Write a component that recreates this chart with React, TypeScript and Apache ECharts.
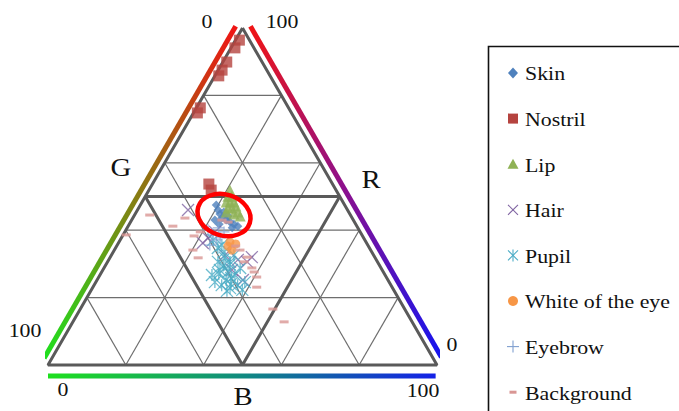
import React, { useEffect, useRef } from "react";
import * as echarts from "echarts";

// Ternary data, each point is [R, G, B] in percent
const skin: number[][] = [
  [47.5, 33.0, 19.5], [46.0, 33.3, 20.7], [44.8, 33.4, 21.8], [45.4, 32.1, 22.5],
  [43.6, 33.5, 22.9], [43.0, 32.7, 24.3], [42.4, 32.0, 25.6], [41.8, 31.3, 26.9],
  [41.2, 30.6, 28.2], [44.2, 31.6, 24.2], [43.0, 35.6, 21.4], [41.8, 35.1, 23.1],
  [40.7, 32.3, 27.0],
];
const nostril: number[][] = [
  [96.4, 2.6, 1.0], [94.1, 4.9, 1.0], [89.9, 9.1, 1.0], [87.5, 11.5, 1.0],
  [85.8, 13.2, 1.0], [76.3, 22.7, 1.0], [74.8, 24.2, 1.0], [53.7, 31.8, 14.5],
  [51.9, 32.1, 16.0],
];
const lip: number[][] = [
  [51.9, 27.3, 20.8], [50.1, 28.7, 21.2], [50.1, 27.7, 22.2], [48.4, 30.0, 21.6],
  [48.4, 29.0, 22.6], [48.4, 28.0, 23.6], [47.2, 28.1, 24.7], [46.6, 30.4, 23.0],
  [46.6, 29.4, 24.0], [45.4, 28.5, 26.1], [44.8, 29.8, 25.4], [44.2, 28.5, 27.3],
  [45.4, 31.5, 23.1],
];
const hair: number[][] = [
  [46.0, 41.0, 13.0], [36.2, 42.1, 21.7], [37.7, 40.0, 22.3], [32.0, 31.6, 36.4],
  [30.6, 33.5, 35.9], [39.5, 37.3, 23.2], [32.6, 38.2, 29.2], [31.2, 35.6, 33.2],
  [28.2, 38.6, 33.2], [25.2, 37.3, 37.5],
];
const pupil: number[][] = [
  [37.1, 39.0, 23.9], [34.7, 39.0, 26.3], [35.6, 37.5, 26.9], [31.8, 38.6, 29.6],
  [30.6, 37.9, 31.5], [28.2, 41.7, 30.1], [27.6, 39.9, 32.5], [26.7, 38.6, 34.7],
  [28.8, 36.2, 35.0], [24.6, 44.8, 30.6], [23.7, 43.5, 32.8], [22.8, 41.8, 35.4],
  [23.7, 39.4, 36.9], [24.6, 37.1, 38.3], [25.2, 41.6, 33.2], [30.6, 41.0, 28.4],
  [32.6, 35.9, 31.5], [22.3, 38.9, 38.8], [26.7, 44.5, 28.8], [29.5, 40.2, 30.3],
  [27.0, 42.6, 30.4], [25.8, 40.0, 34.2], [22.0, 43.0, 35.0], [24.0, 41.0, 35.0],
  [29.8, 38.4, 31.8], [33.5, 38.0, 28.5],
];
const whiteOfEye: number[][] = [
  [35.3, 36.1, 28.6], [34.1, 35.7, 30.2], [35.9, 33.8, 30.3], [36.5, 35.0, 28.5],
];
const eyebrow: number[][] = [
  [40.1, 38.8, 21.1], [38.6, 38.5, 22.9], [37.1, 38.2, 24.7], [37.7, 36.9, 25.4],
  [35.6, 40.6, 23.8], [39.5, 35.0, 25.5], [40.7, 35.9, 23.4],
];
const background: number[][] = [
  [44.5, 51.6, 3.9], [38.6, 60.6, 0.8], [41.2, 47.3, 11.5], [43.6, 43.0, 13.4],
  [38.3, 43.3, 18.4], [34.1, 45.7, 20.2], [43.0, 33.8, 23.2], [42.4, 32.5, 25.1],
  [34.1, 33.6, 32.3], [32.0, 32.8, 35.2], [28.8, 33.2, 38.0], [26.1, 33.3, 40.6],
  [23.1, 34.8, 42.1], [27.6, 33.2, 39.2], [30.6, 34.3, 35.1], [35.3, 34.1, 30.6],
  [16.6, 33.9, 49.5], [12.8, 32.9, 54.3], [39.5, 41.1, 19.4], [31.8, 45.5, 22.7],
];

const seriesNames = ["Skin", "Nostril", "Lip", "Hair", "Pupil", "White of the eye", "Eyebrow", "Background"];
const gridTicks = [20, 40, 60, 80];
const midTick = 50;

const FONT = "Liberation Serif";

// ternary [R,G,B] -> cartesian (x across bottom 0..100, y height 0..100)
const toXY = (p: number[]) => {
  const [r, g, b] = p;
  const s = r + g + b;
  return [((b + r / 2) * 100) / s, (r * 100) / s];
};
const toXYRaw = (p: number[]) => [p[2] + p[0] / 2, p[0]];

const lineSeries = (pts: number[][], color: any, width: number, z: number, raw = false) => ({
  type: "line",
  data: pts.map(raw ? toXYRaw : toXY),
  symbol: "none",
  showSymbol: false,
  lineStyle: { color, width, cap: "butt" },
  silent: true,
  clip: false,
  z,
  legendHoverLink: false,
});

const App: React.FC = () => {
  const ref = useRef<HTMLDivElement>(null);
  useEffect(() => {
    if (!ref.current) return;
    const chart = echarts.init(ref.current, undefined, { renderer: "svg" });
    const GL = 48, GT = 28, GW = 389, GH = 337;

    const lines: any[] = [];
    gridTicks.forEach((k) => {
      lines.push(lineSeries([[k, 100 - k, 0], [k, 0, 100 - k]], "#6e6e6e", 1.2, 1));
      lines.push(lineSeries([[0, 100 - k, k], [100 - k, 0, k]], "#6e6e6e", 1.2, 1));
      lines.push(lineSeries([[0, k, 100 - k], [100 - k, k, 0]], "#6e6e6e", 1.2, 1));
    });
    // medial triangle (50%)
    lines.push(lineSeries([[midTick, 100 - midTick, 0], [midTick, 0, 100 - midTick], [0, midTick, 100 - midTick], [midTick, 100 - midTick, 0]], "#5a5a5a", 3, 2));
    // outer triangle
    lines.push(lineSeries([[100, 0, 0], [0, 100, 0], [0, 0, 100], [100, 0, 0]], "#5a5a5a", 3, 2));

    // gradient edges (offset outside the triangle), [R,G,B] raw values
    const leftGrad = new echarts.graphic.LinearGradient(0, 1, 1, 0, [
      { offset: 0, color: "#1ee01e" }, { offset: 0.5, color: "#8a7a12" }, { offset: 1, color: "#f01414" },
    ]);
    const rightGrad = new echarts.graphic.LinearGradient(0, 0, 1, 1, [
      { offset: 0, color: "#f01414" }, { offset: 0.5, color: "#8a1090" }, { offset: 1, color: "#1414f0" },
    ]);
    const bottomGrad = new echarts.graphic.LinearGradient(GL, 0, GL + GW, 0, [
      { offset: 0, color: "#1ee01e" }, { offset: 0.5, color: "#108a80" }, { offset: 1, color: "#1420e8" },
    ], true);
    lines.push(lineSeries([[2, 100, -2], [100.5, 1.5, -2]], leftGrad, 5, 2, true));
    lines.push(lineSeries([[100.5, -2.3, 1.8], [2.3, -2.3, 100]], rightGrad, 5, 2, true));
    lines.push(lineSeries([[-3.3, 100, 1.65], [-3.3, 100, 101.3]], bottomGrad, 5, 2, true));

    const xPath = "path://M0,0L10,10M10,0L0,10";
    const starPath = "path://M0,0L10,10M10,0L0,10M5,0L5,10";
    const plusPath = "path://M5,0L5,10M0,5L10,5";

    const scatterDefs = [
      { name: seriesNames[0], data: skin, symbol: "diamond", size: 9, color: "#4F81BD", icon: "diamond" },
      { name: seriesNames[1], data: nostril, symbol: "rect", size: 11, color: "#B5433F", icon: "rect" },
      { name: seriesNames[2], data: lip, symbol: "triangle", size: 11, color: "#8FB255", icon: "triangle" },
      { name: seriesNames[3], data: hair, symbol: xPath, size: 12, color: "#8064A2", stroke: 1.3, icon: "x" },
      { name: seriesNames[4], data: pupil, symbol: starPath, size: 12, color: "#4BACC6", stroke: 1.3, icon: "star" },
      { name: seriesNames[5], data: whiteOfEye, symbol: "circle", size: 9, color: "#F79646", icon: "circle" },
      { name: seriesNames[6], data: eyebrow, symbol: plusPath, size: 11, color: "#7F9FCF", stroke: 1.2, icon: "plus" },
      { name: seriesNames[7], data: background, symbol: "rect", size: [9, 3], color: "#D99694", icon: "dash" },
    ];

    const scatters = scatterDefs.map((d, i) => ({
      type: "scatter",
      name: d.name,
      data: d.data.map(toXY),
      symbol: d.symbol,
      symbolSize: d.size,
      itemStyle: d.stroke
        ? { color: d.color, borderColor: d.color, borderWidth: d.stroke }
        : { color: d.color },
      z: 3 + i * 0.01,
    }));

    // custom legend (serif text, slightly stretched like the original)
    const LX = 513, LY0 = 73, LSTEP = 45.6;
    const iconEl = (kind: string, cx: number, cy: number, c: string): any => {
      const ln = (x1: number, y1: number, x2: number, y2: number) => ({
        type: "line", shape: { x1: cx + x1, y1: cy + y1, x2: cx + x2, y2: cy + y2 },
        style: { stroke: c, lineWidth: 1.1 },
      });
      switch (kind) {
        case "diamond":
          return { type: "polygon", shape: { points: [[cx, cy - 5.5], [cx + 5, cy], [cx, cy + 5.5], [cx - 5, cy]] }, style: { fill: c } };
        case "rect":
          return { type: "rect", shape: { x: cx - 5, y: cy - 5, width: 10, height: 10 }, style: { fill: c } };
        case "triangle":
          return { type: "polygon", shape: { points: [[cx, cy - 5.5], [cx + 5.5, cy + 4.5], [cx - 5.5, cy + 4.5]] }, style: { fill: c } };
        case "circle":
          return { type: "circle", shape: { cx, cy, r: 5 }, style: { fill: c } };
        case "x":
          return { type: "group", children: [ln(-5, -5, 5, 5), ln(5, -5, -5, 5)] };
        case "star":
          return { type: "group", children: [ln(-5, -5, 5, 5), ln(5, -5, -5, 5), ln(0, -6, 0, 6)] };
        case "plus":
          return { type: "group", children: [ln(0, -6, 0, 6), ln(-6, 0, 6, 0)] };
        default:
          return { type: "rect", shape: { x: cx - 3.5, y: cy - 1.5, width: 7, height: 3 }, style: { fill: c } };
      }
    };
    const legendEls: any[] = [];
    scatterDefs.forEach((d, i) => {
      const cy = LY0 + i * LSTEP;
      legendEls.push({ ...iconEl(d.icon, LX, cy, d.color), z: 12 });
      legendEls.push({
        type: "text", x: LX + 12, y: cy + 1, scaleX: 1.15, z: 12,
        style: {
          text: d.name, fill: "#111", fontSize: 19, fontFamily: FONT,
          textAlign: "left", textVerticalAlign: "middle", align: "left", verticalAlign: "middle",
        },
      });
    });

    const txt = (text: string, x: number, y: number, size: number) => ({
      type: "text",
      x, y, scaleX: 1.15,
      z: 10,
      style: {
        text, fill: "#111", fontSize: size, fontFamily: FONT,
        textAlign: "center", textVerticalAlign: "middle", align: "center", verticalAlign: "middle",
      },
    });

    chart.setOption({
      animation: false,
      grid: { left: GL, top: GT, width: GW, height: GH },
      xAxis: { type: "value", min: 0, max: 100, show: false },
      yAxis: { type: "value", min: 0, max: 100, show: false },
      graphic: [
        {
          type: "rect", shape: { x: 488.5, y: 46.5, width: 300, height: 420 },
          style: { fill: "none", stroke: "#111", lineWidth: 1.6 }, z: 0,
        },
        {
          type: "ellipse", x: 224, y: 215, rotation: -0.3,
          shape: { cx: 0, cy: 0, rx: 27, ry: 20.5 },
          style: { fill: "none", stroke: "#ff0000", lineWidth: 4.5 }, z: 20,
        },
        txt("0", 207, 22, 19),
        txt("100", 282, 22, 19),
        txt("G", 121, 168, 25),
        txt("R", 371, 180, 25),
        txt("100", 25, 331, 19),
        txt("0", 452, 345, 19),
        txt("0", 63, 390, 19),
        txt("B", 243, 397, 25),
        txt("100", 423, 391, 19),
        ...legendEls,
      ],
      series: [...lines, ...scatters],
    });
    return () => chart.dispose();
  }, []);
  return <div ref={ref} style={{ width: 679, height: 411, position: "absolute", left: 0, top: 0 }} />;
};

export default App;
